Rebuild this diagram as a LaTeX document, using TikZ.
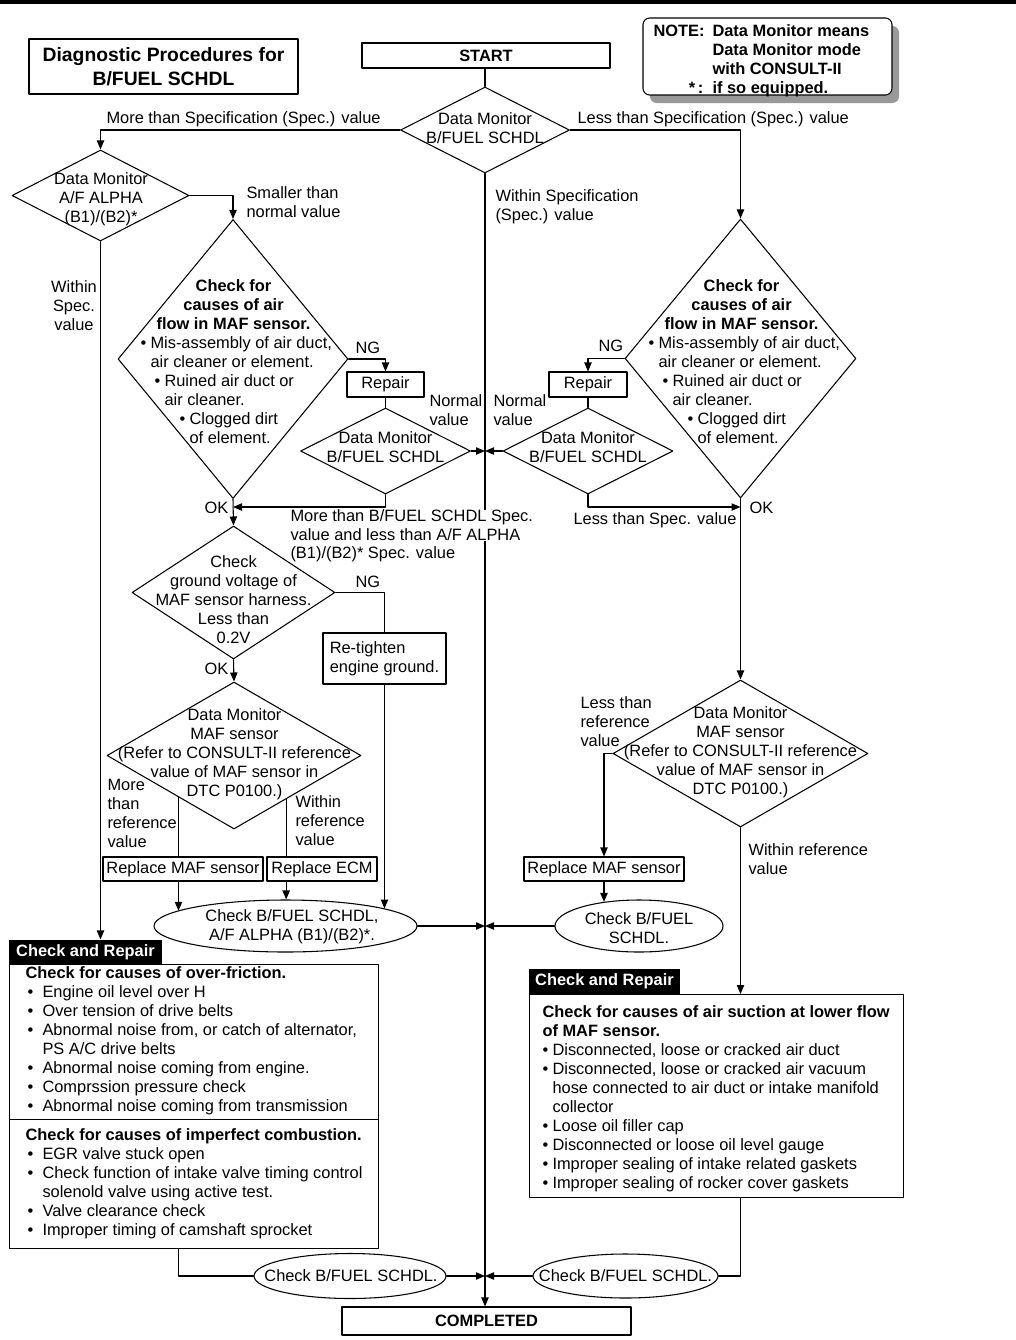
\documentclass[tikz,border=0pt]{standalone}
\usepackage{fontspec}
\setmainfont{Liberation Sans}
\usetikzlibrary{arrows.meta,shapes.geometric}
\newlength\pxu \setlength\pxu{0.75pt}
\newcommand\flowfont{\fontsize{12.3pt}{14.25pt}\selectfont}
\newcommand\bulw[1]{\makebox[#1\pxu][l]{•}}
\newcommand\airtext{%
\makebox[186\pxu][c]{\textbf{Check for}}\\
\makebox[186\pxu][c]{\textbf{causes of air}}\\
\makebox[186\pxu][c]{\textbf{flow in MAF sensor.}}\\
\bulw{10}Mis-assembly of air duct,\\
\hspace*{10\pxu}air cleaner or element.\\
\hspace*{14\pxu}\bulw{10}Ruined air duct or\\
\hspace*{24\pxu}air cleaner.\\
\hspace*{39\pxu}\bulw{10}Clogged dirt\\
\hspace*{49\pxu}of element.}
\tikzset{
  procbox/.style={draw, line width=0.8pt, inner sep=0pt, font=\flowfont},
  dia/.style={diamond, draw, line width=0.8pt, inner sep=0pt},
  checkell/.style={ellipse, draw, line width=0.8pt, inner sep=0pt},
  lbl/.style={inner sep=0pt, font=\flowfont, align=left, anchor=west},
  ctxt/.style={inner sep=0pt, font=\flowfont, align=center},
  crtab/.style={fill=black, text=white, inner sep=0pt, font=\flowfont\bfseries}
}
\begin{document}
\begin{tikzpicture}[line cap=round,line join=round,>={Triangle[length=6.75pt,width=5.5pt]},x=0.75pt,y=-0.75pt,line width=0.8pt]
\useasboundingbox (0,0) rectangle (1016,1340);
\fill (0,0) rectangle (1016,4);
% heading and note
\node[procbox, minimum width=269\pxu, minimum height=55\pxu, align=center, font=\fontsize{14.5pt}{18pt}\selectfont\bfseries] (title) at (163.5,66.5) {Diagnostic Procedures for\\B/FUEL SCHDL};
\fill[black!40, rounded corners=5pt] (650,26) rectangle (899,103);
\node[procbox, rounded corners=5pt, fill=white, minimum width=249\pxu, minimum height=77\pxu] (note) at (767.5,56.5) {};
\node[lbl, font=\flowfont\bfseries] (note-t) at (653,60.5) {\makebox[59\pxu][l]{NOTE:}Data Monitor means\\\hspace*{59\pxu}Data Monitor mode\\\hspace*{59\pxu}with CONSULT-II\\\makebox[59\pxu][r]{*\,:\ \ }if so equipped.};
\node[procbox, minimum width=248\pxu, minimum height=25\pxu, font=\flowfont\bfseries] (start) at (486,55.5) {START};
\node[dia, minimum width=169\pxu, minimum height=86\pxu] (d1) at (485,130) {};
\node[ctxt] (d1-t) at (485,128) {Data Monitor\\B/FUEL SCHDL};
% left side
\node[dia, minimum width=177\pxu, minimum height=91\pxu] (aL) at (100.5,195.5) {};
\node[ctxt] (aL-t) at (101,199.5) {Data Monitor\\A/F ALPHA\\(B1)/(B2)*};
\node[dia, minimum width=230\pxu, minimum height=279\pxu] (bigL) at (233,359) {};
\node[lbl] (bigL-t) at (140,362) {\airtext};
\node[procbox, minimum width=77\pxu, minimum height=25\pxu] (repL) at (385.5,384.5) {Repair};
\node[dia, minimum width=170\pxu, minimum height=86\pxu] (smL) at (385.5,451) {};
\node[ctxt] (smL-t) at (385.5,447) {Data Monitor\\B/FUEL SCHDL};
\coordinate (okL) at (233,507);
\node[dia, minimum width=203\pxu, minimum height=133\pxu] (gnd) at (233.5,592.5) {};
\node[ctxt] (gnd-t) at (233.5,600) {Check\\ground voltage of\\MAF sensor harness.\\Less than\\0.2V};
\node[procbox, minimum width=123\pxu, minimum height=51\pxu, align=left] (rtL) at (384.5,658.5) {Re-tighten\\engine ground.};
\node[dia, minimum width=254\pxu, minimum height=147\pxu] (mafL) at (234,755.5) {};
\node[ctxt] (mafL-t) at (234.5,754) {Data Monitor\\MAF sensor\\(Refer to CONSULT-II reference\\value of MAF sensor in\\DTC P0100.)};
\node[procbox, minimum width=160\pxu, minimum height=24\pxu] (repMafL) at (183,869) {Replace MAF sensor};
\node[procbox, minimum width=110\pxu, minimum height=24\pxu] (repEcm) at (322,869) {Replace ECM};
\node[checkell, minimum width=263\pxu, minimum height=52\pxu] (ellL) at (285.5,926) {};
\node[ctxt] (ellL-t) at (292,927) {Check B/FUEL SCHDL,\\A/F ALPHA (B1)/(B2)*.};
\node[crtab, minimum width=153\pxu, minimum height=24\pxu] (tabL) at (85.5,952) {Check and Repair};
\node[procbox, minimum width=369\pxu, minimum height=155\pxu, anchor=north west] (crL1) at (9,964) {};
\node[procbox, minimum width=369\pxu, minimum height=129\pxu, anchor=north west] (crL2) at (9,1119) {};
\node[lbl] (crL1-t) at (25,1041) {\textbf{Check for causes of over-friction.}\\
\hspace*{2\pxu}\bulw{15}Engine oil level over H\\
\hspace*{2\pxu}\bulw{15}Over tension of drive belts\\
\hspace*{2\pxu}\bulw{15}Abnormal noise from, or catch of alternator,\\
\hspace*{17\pxu}PS A/C drive belts\\
\hspace*{2\pxu}\bulw{15}Abnormal noise coming from engine.\\
\hspace*{2\pxu}\bulw{15}Comprssion pressure check\\
\hspace*{2\pxu}\bulw{15}Abnormal noise coming from transmission};
\node[lbl] (crL2-t) at (25,1183.5) {\textbf{Check for causes of imperfect combustion.}\\
\hspace*{2\pxu}\bulw{15}EGR valve stuck open\\
\hspace*{2\pxu}\bulw{15}Check function of intake valve timing control\\
\hspace*{17\pxu}solenold valve using active test.\\
\hspace*{2\pxu}\bulw{15}Valve clearance check\\
\hspace*{2\pxu}\bulw{15}Improper timing of camshaft sprocket};
\node[checkell, minimum width=192\pxu, minimum height=45\pxu] (ellL2) at (350,1276) {};
\node[ctxt] (ellL2-t) at (351,1276) {Check B/FUEL SCHDL.};
% right side
\node[dia, minimum width=231\pxu, minimum height=279\pxu] (bigR) at (740.5,358.5) {};
\node[lbl] (bigR-t) at (648,362) {\airtext};
\node[procbox, minimum width=78\pxu, minimum height=25\pxu] (repR) at (588,384.5) {Repair};
\node[dia, minimum width=170\pxu, minimum height=86\pxu] (smR) at (588,451) {};
\node[ctxt] (smR-t) at (588,447.5) {Data Monitor\\B/FUEL SCHDL};
\coordinate (okR) at (740.5,507);
\node[dia, minimum width=255\pxu, minimum height=147\pxu] (mafR) at (740.5,753.5) {};
\node[ctxt] (mafR-t) at (740.5,752) {Data Monitor\\MAF sensor\\(Refer to CONSULT-II reference\\value of MAF sensor in\\DTC P0100.)};
\node[procbox, minimum width=160\pxu, minimum height=24\pxu] (repMafR) at (604,869) {Replace MAF sensor};
\node[checkell, minimum width=168\pxu, minimum height=52\pxu] (ellR) at (639,926) {};
\node[ctxt] (ellR-t) at (639,928.5) {Check B/FUEL\\SCHDL.};
\node[crtab, minimum width=151\pxu, minimum height=25\pxu] (tabR) at (604.5,981.5) {Check and Repair};
\node[procbox, minimum width=374\pxu, minimum height=203\pxu, anchor=north west] (crR) at (529,994) {};
\node[lbl] (crR-t) at (542,1099) {\textbf{Check for causes of air suction at lower flow}\\
\textbf{of MAF sensor.}\\
\bulw{10}Disconnected, loose or cracked air duct\\
\bulw{10}Disconnected, loose or cracked air vacuum\\
\hspace*{10\pxu}hose connected to air duct or intake manifold\\
\hspace*{10\pxu}collector\\
\bulw{10}Loose oil filler cap\\
\bulw{10}Disconnected or loose oil level gauge\\
\bulw{10}Improper sealing of intake related gaskets\\
\bulw{10}Improper sealing of rocker cover gaskets};
\node[checkell, minimum width=185\pxu, minimum height=44\pxu] (ellR2) at (625.5,1276) {};
\node[ctxt] (ellR2-t) at (625.5,1276) {Check B/FUEL SCHDL.};
\node[procbox, minimum width=289\pxu, minimum height=28\pxu, font=\flowfont\bfseries] (done) at (486.5,1321) {COMPLETED};
% connectors
\draw (d1.north |- start.south) -- (d1.north);
\draw[->] (d1.south) -- (d1.south |- done.north);
\draw[->] (d1.west) -| (aL.north);
\draw[->] (d1.east) -| (bigR.north);
\draw[->] (aL.east) -| (bigL.north);
\draw[->] (aL.south) -- (aL.south |- tabL.north);
\draw[->] (bigL.east) -| (repL.north);
\draw (repL.south) -- (smL.north);
\draw[->] (smL.south) |- (okL);
\draw[->] (bigL.south) -- (gnd.north);
\draw (gnd.east) -| (rtL.north);
\draw[->] (rtL.south) -- (rtL.south |- ellL.10);
\draw[->] (gnd.south) -- (mafL.north);
\draw (mafL.-143) -- (mafL.-143 |- repMafL.north);
\draw (mafL.-40) -- (mafL.-40 |- repEcm.north);
\draw[->] (mafL.-143 |- repMafL.south) -- (mafL.-143 |- ellL.172);
\draw[->] (mafL.-40 |- repEcm.south) -- (mafL.-40 |- ellL.north);
\draw (crL2.south -| mafL.-143) |- (ellL2.west);
\draw[->] (bigR.west) -| (repR.north);
\draw (repR.south) -- (smR.north);
\draw[->] (smR.south) |- (okR);
\draw[->] (bigR.south) -- (mafR.north);
\draw[->] (mafR.west) -| (repMafR.north);
\draw[->] (repMafR.south) -- (repMafR.south |- ellR.146);
\draw[->] (mafR.south) -- (mafR.south |- crR.north);
\draw (mafR.south |- crR.south) |- (ellR2.east);
\foreach \n in {smL,ellL,ellL2}
\draw[->] (\n.east) -- (\n.east -| d1.south);
\foreach \n in {smR,ellR,ellR2}
\draw[->] (\n.west) -- (\n.west -| d1.south);
% branch labels
\node[lbl] (lMore) at (106,119) {More than Specification (Spec.) value};
\node[lbl] (lLess) at (577,119) {Less than Specification (Spec.) value};
\node[lbl] (lWithin) at (495,206.5) {Within Specification\\(Spec.) value};
\node[lbl] (lSmaller) at (246,202.5) {Smaller than\\normal value};
\node[ctxt] (lWithinL) at (74,306) {Within\\Spec.\\value};
\node[lbl] (lNgL) at (355,348) {NG};
\node[lbl] (lNormL) at (429,410.5) {Normal\\value};
\node[lbl] (lNgR) at (598,346) {NG};
\node[lbl] (lNormR) at (493,410.5) {Normal\\value};
\node[lbl] (lOkL) at (204,508) {OK};
\node[lbl, fill=white] (lMoreB) at (290,525.5) {More than B/FUEL SCHDL Spec.\\value and less than A/F ALPHA};
\node[lbl] (lMoreB3) at (290,554) {(B1)/(B2)* Spec. value};
\node[lbl] (lLessS) at (573,520) {Less than Spec. value};
\node[lbl] (lOkR) at (749,508) {OK};
\node[lbl] (lNgG) at (355,582) {NG};
\node[lbl] (lOkG) at (204,669) {OK};
\node[lbl] (lMoreRef) at (107,813.5) {More\\than\\reference\\value};
\node[lbl] (lWithinRef) at (295,821) {Within\\reference\\value};
\node[lbl] (lLessRef) at (580,722) {Less than\\reference\\value};
\node[lbl] (lWithinRefR) at (748,859.5) {Within reference\\value};
\end{tikzpicture}
\end{document}
